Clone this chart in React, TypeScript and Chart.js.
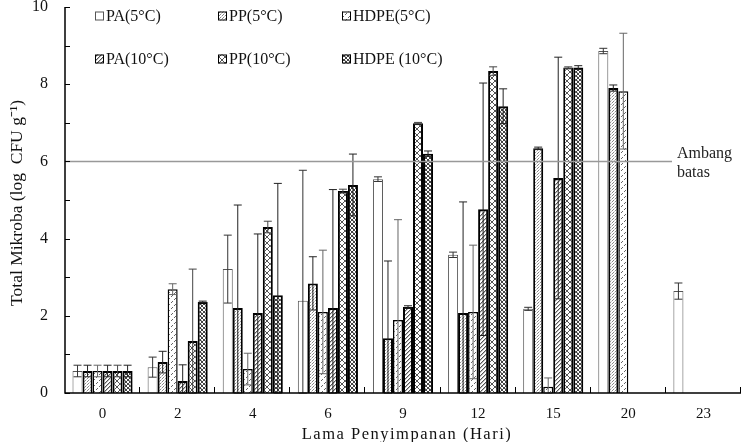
import React, { useEffect, useRef } from "react";
import { Chart, registerables } from "chart.js";

Chart.register(...registerables);

const days = ["0", "2", "4", "6", "9", "12", "15", "20", "23"];
const seriesNames = ["PA(5°C)", "PP(5°C)", "HDPE(5°C)", "PA(10°C)", "PP(10°C)", "HDPE (10°C)"];

const pa5 = [0.57, 0.67, 3.21, 2.39, 5.54, 3.58, 2.18, 8.86, 2.64];
const pp5 = [0.57, 0.8, 2.2, 2.84, 1.42, 2.07, 6.34, 7.9, null];
const hdpe5 = [0.57, 2.69, 0.62, 2.1, 1.89, 2.1, 0.16, 7.82, null];
const pa10 = [0.57, 0.31, 2.07, 2.2, 2.23, 4.76, 5.57, null, null];
const pp10 = [0.57, 1.35, 4.3, 5.23, 6.99, 8.34, 8.43, null, null];
const hdpe10 = [0.57, 2.36, 2.53, 5.39, 6.2, 7.43, 8.43, null, null];

const pa5Err = [0.15, 0.26, 0.88, 3.38, 0.06, 0.07, 0.04, 0.07, 0.21];
const pp5Err = [0.15, 0.28, 2.67, 0.69, 2.0, 2.88, 0.03, 0.08, null];
const hdpe5Err = [0.15, 0.14, 0.41, 1.6, 2.6, 1.73, 0.23, 1.5, null];
const pa10Err = [0.15, 0.42, 2.05, 3.07, 0.03, 3.27, 3.13, null, null];
const pp10Err = [0.15, 1.86, 0.15, 0.05, 0.02, 0.11, 0.02, null, null];
const hdpe10Err = [0.15, 0.02, 2.9, 0.8, 0.07, 0.45, 0.05, null, null];

const threshold = 6;
const yTicks = [0, 1, 2, 3, 4, 5, 6, 7, 8, 9, 10];

const FONT = "'Liberation Serif', 'Times New Roman', serif";

function makePattern(kind: string): CanvasPattern | string {
  const c = document.createElement("canvas");
  const s = kind === "dots" ? 3 : kind === "dash" ? 6 : kind === "diag" ? 4 : kind === "cross" ? 6 : 4;
  c.width = s;
  c.height = s;
  const g = c.getContext("2d")!;
  g.fillStyle = "#fff";
  g.fillRect(0, 0, s, s);
  if (kind === "dots") {
    g.fillStyle = "#888";
    g.fillRect(0, 0, 1, 1);
    g.fillRect(1, 2, 1, 1);
    g.fillStyle = "#ccc";
    g.fillRect(2, 1, 1, 1);
  } else if (kind === "dash") {
    g.fillStyle = "#666";
    g.fillRect(4, 1, 1, 1);
    g.fillRect(3, 2, 1, 1);
    g.fillRect(1, 4, 1, 1);
    g.fillRect(0, 5, 1, 1);
  } else if (kind === "diag") {
    g.fillStyle = "#555";
    for (let i = 0; i < s; i++) g.fillRect(s - 1 - i, i, 1, 1);
    g.fillStyle = "#bbb";
    for (let i = 0; i < s; i++) g.fillRect((s - i) % s, i, 1, 1);
  } else if (kind === "cross") {
    g.fillStyle = "#555";
    for (let i = 0; i < s; i++) {
      g.fillRect(i, i, 1, 1);
      g.fillRect(s - 1 - i, i, 1, 1);
    }
  } else {
    g.fillStyle = "#444";
    for (let i = 0; i < s; i++) {
      g.fillRect(i, i, 1, 1);
      g.fillRect(s - 1 - i, i, 1, 1);
    }
    g.fillStyle = "#aaa";
    g.fillRect(1, 0, 1, 1);
  }
  return g.createPattern(c, "repeat") || "#fff";
}

export default function App() {
  const ref = useRef<HTMLCanvasElement>(null);

  useEffect(() => {
    document.body.style.margin = "0";
    const canvas = ref.current!;
    const values = [pa5, pp5, hdpe5, pa10, pp10, hdpe10];
    const errs = [pa5Err, pp5Err, hdpe5Err, pa10Err, pp10Err, hdpe10Err];
    const kinds = ["none", "dots", "dash", "diag", "cross", "dense"];
    const fills = kinds.map((k) => (k === "none" ? "#fff" : makePattern(k)));
    const borderColors = ["#555", "#000", "#000", "#000", "#000", "#000"];
    const borderWidths = [1, 2, 1.5, 2, 2, 2];
    const errColors = ["#333", "#222", "#666", "#222", "#444", "#222"];

    const decor = {
      id: "decor",
      afterDatasetsDraw(chart: any) {
        const ctx = chart.ctx;
        const ys = chart.scales.y;
        const area = chart.chartArea;
        chart.data.datasets.forEach((ds: any, di: number) => {
          const meta = chart.getDatasetMeta(di);
          meta.data.forEach((el: any, i: number) => {
            const v = values[di][i];
            const e = errs[di][i];
            if (v == null || e == null) return;
            const x = el.x;
            const yTop = ys.getPixelForValue(v + e);
            const yBot = ys.getPixelForValue(Math.max(0, v - e));
            ctx.save();
            ctx.strokeStyle = errColors[di];
            ctx.lineWidth = 1;
            ctx.beginPath();
            ctx.moveTo(x, yTop);
            ctx.lineTo(x, yBot);
            ctx.moveTo(x - 4, yTop);
            ctx.lineTo(x + 4, yTop);
            ctx.moveTo(x - 4, yBot);
            ctx.lineTo(x + 4, yBot);
            ctx.stroke();
            ctx.restore();
          });
        });
        const ty = ys.getPixelForValue(threshold);
        ctx.save();
        ctx.strokeStyle = "#999";
        ctx.lineWidth = 1.5;
        ctx.beginPath();
        ctx.moveTo(area.left, ty);
        ctx.lineTo(672, ty);
        ctx.stroke();
        ctx.fillStyle = "#222";
        ctx.font = "16px " + FONT;
        ctx.textAlign = "left";
        ctx.textBaseline = "middle";
        ctx.fillText("Ambang", 677, ty - 8);
        ctx.fillText("batas", 677, ty + 11);
        ctx.restore();
      },
      afterDraw(chart: any) {
        const ctx = chart.ctx;
        const ys = chart.scales.y;
        const area = chart.chartArea;
        ctx.save();
        ctx.strokeStyle = "#000";
        ctx.lineWidth = 1.5;
        ctx.beginPath();
        ctx.moveTo(area.left, area.top);
        ctx.lineTo(area.left, area.bottom);
        ctx.lineTo(area.right, area.bottom);
        ctx.stroke();
        ctx.lineWidth = 1;
        ctx.beginPath();
        yTicks.forEach((t) => {
          const y = Math.round(ys.getPixelForValue(t)) + 0.5;
          ctx.moveTo(area.left, y);
          ctx.lineTo(area.left + 5, y);
        });
        const n = days.length;
        const w = (area.right - area.left) / n;
        for (let i = 1; i <= n; i++) {
          const x = Math.round(area.left + i * w) - 0.5;
          ctx.moveTo(x, area.bottom);
          ctx.lineTo(x, area.bottom - 6);
        }
        ctx.stroke();
        ctx.fillStyle = "#111";
        ctx.font = "16.5px " + FONT;
        (ctx as any).letterSpacing = "1.5px";
        ctx.textAlign = "center";
        ctx.textBaseline = "alphabetic";
        ctx.fillText("Lama Penyimpanan (Hari)", 407, 439);
        (ctx as any).letterSpacing = "0px";
        ctx.save();
        ctx.translate(22, 203);
        ctx.rotate(-Math.PI / 2);
        ctx.font = "17.5px " + FONT;
        ctx.fillText("Total Mikroba (log  CFU g\u207B\u00B9)", 0, 0);
        ctx.restore();
        const cols = [95, 218, 342];
        const rows = [16, 59];
        ctx.font = "16px " + FONT;
        ctx.textAlign = "left";
        ctx.textBaseline = "middle";
        seriesNames.forEach((name, i) => {
          const cx = cols[i % 3];
          const cy = rows[Math.floor(i / 3)];
          ctx.fillStyle = fills[i] as any;
          ctx.fillRect(cx, cy - 4.5, 9, 9);
          ctx.strokeStyle = i === 0 ? "#555" : "#000";
          ctx.lineWidth = 1;
          ctx.strokeRect(cx + 0.5, cy - 4, 8, 8);
          ctx.fillStyle = "#111";
          ctx.fillText(name, cx + 11, cy + 1);
        });
        ctx.restore();
      },
    };

    const chart = new Chart(canvas, {
      type: "bar",
      data: {
        labels: days,
        datasets: values.map((v, i) => ({
          label: seriesNames[i],
          data: v as any,
          backgroundColor: fills[i] as any,
          borderColor: borderColors[i],
          borderWidth: borderWidths[i],
          categoryPercentage: 0.8,
          barPercentage: 1,
        })),
      },
      options: {
        animation: false,
        responsive: false,
        maintainAspectRatio: false,
        layout: { padding: { top: 7, right: 5, left: 0, bottom: 0 } },
        plugins: { legend: { display: false }, tooltip: { enabled: false } },
        scales: {
          x: {
            grid: { display: false, drawTicks: false },
            border: { display: false },
            ticks: { font: { family: FONT, size: 15 }, color: "#111", padding: 12 },
            afterFit: (s: any) => {
              s.height = 49;
              s.paddingLeft = 0;
              s.paddingRight = 0;
            },
          },
          y: {
            min: 0,
            max: 10,
            grid: { display: false, drawTicks: false },
            border: { display: false },
            ticks: {
              stepSize: 1,
              font: { family: FONT, size: 16 },
              color: "#111",
              padding: 17,
              callback: (v: any) => (Number(v) % 2 === 0 ? String(v) : ""),
            },
            afterFit: (s: any) => {
              s.width = 65;
              s.paddingTop = 0;
              s.paddingBottom = 0;
            },
          },
        },
      },
      plugins: [decor],
    });
    return () => chart.destroy();
  }, []);

  return (
    <div style={{ position: "absolute", left: 0, top: 0, width: 746, height: 442, background: "#fff" }}>
      <canvas ref={ref} width={746} height={442} style={{ width: 746, height: 442 }} />
    </div>
  );
}
